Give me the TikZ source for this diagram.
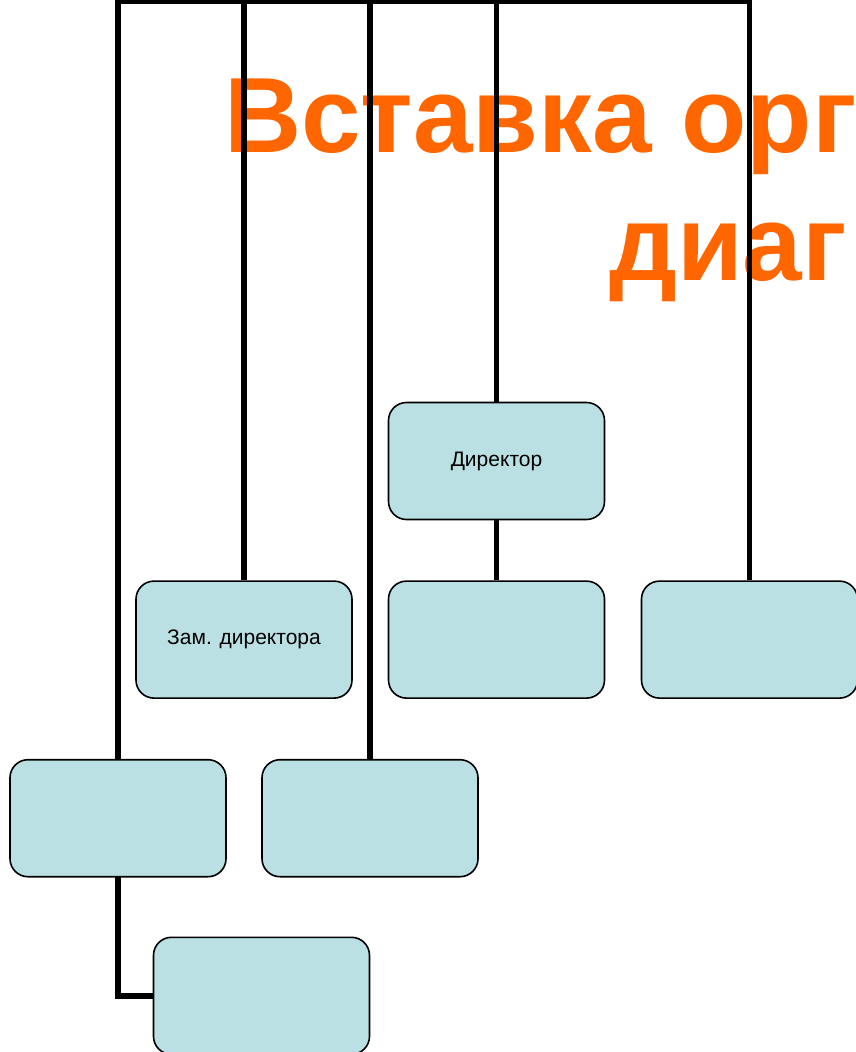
\documentclass[tikz,border=0pt]{standalone}
\usepackage{fontspec}
\setmainfont{Liberation Sans}
\usetikzlibrary{positioning, backgrounds}

\definecolor{unitfill}{HTML}{BBE0E3}
\definecolor{titleorange}{HTML}{FF6600}

\begin{document}
\begin{tikzpicture}[
    x=1pt, y=-1pt,
    unit/.style={rectangle, draw, line width=1.6pt, fill=unitfill, rounded corners=18pt, minimum width=216pt, minimum height=117pt, font=\fontsize{21}{25}\selectfont},
    heading/.style={anchor=base west, inner sep=0pt, text=titleorange, font=\fontsize{107}{128}\selectfont\bfseries},
    conn/.style={line width=5.5pt, color=black},
    node distance=60pt
]
\useasboundingbox (0,0) rectangle (856,1052);

% Level 1
\node[unit] (dir) at (496.5,461) {Директор};

% Level 2
\node[unit, below=of dir, xshift=-252.5pt] (zam) {Зам. директора};
\node[unit, below=of dir] (mid) {};
\node[unit, below=of dir, xshift=253pt] (right) {};

% Level 3
\node[unit, below=of zam, xshift=-126pt] (left) {};
\node[unit, below=of zam, xshift=126pt] (sec) {};

% Level 4
\node[unit, below=59pt of left, xshift=143.5pt] (sub) {};

\begin{scope}[on background layer]
\clip (0,0) rectangle (856,1052);

% Title
\node[heading] (title1) at (224,152) {Вставка орг};
\node[heading] (title2) at (609,280) {диаг};

% Connectors
\coordinate (topl) at (left.north |- 0,1);
\coordinate (topr) at (right.north |- 0,1);
\draw[conn] (sub.west) -| (topl) -- (topr) -- (right.north);
\draw[conn] (zam.north) -- (zam.north |- topl);
\draw[conn] (sec.north) -- (sec.north |- topl);
\draw[conn] (dir.north) -- (dir.north |- topl);
\draw[conn] (dir) -- (mid);
\end{scope}

\end{tikzpicture}
\end{document}
